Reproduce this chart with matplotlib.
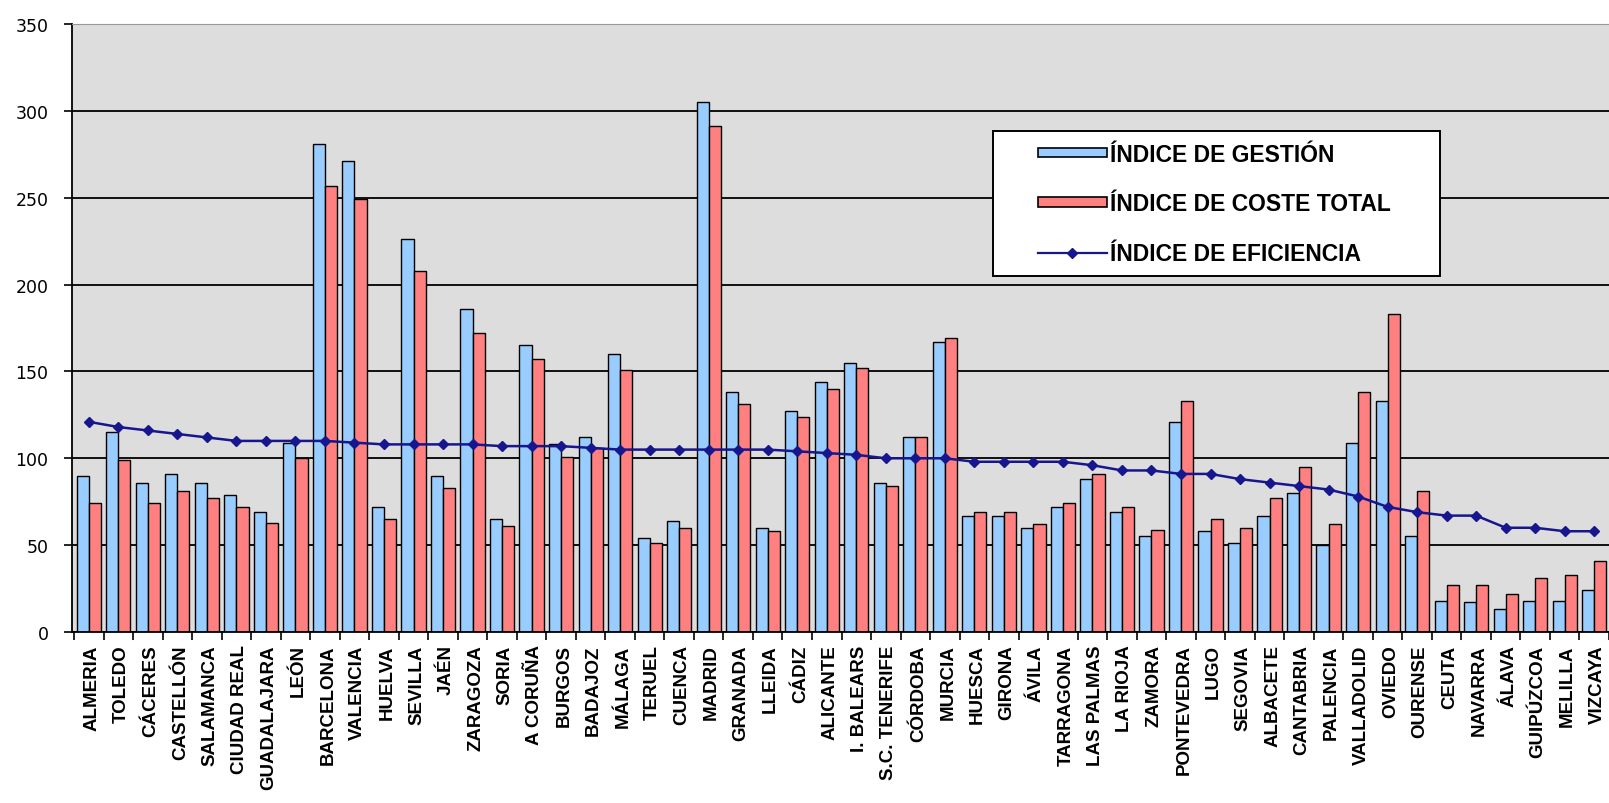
import numpy as np
import matplotlib
matplotlib.use("Agg")
import matplotlib.pyplot as plt
import matplotlib.transforms as mtransforms
from matplotlib.lines import Line2D
from matplotlib.patches import Patch, Rectangle

# provincias (ordenadas por índice de eficiencia)
provincias = ["ALMERIA", "TOLEDO", "CÁCERES", "CASTELLÓN", "SALAMANCA", "CIUDAD REAL",
              "GUADALAJARA", "LEÓN", "BARCELONA", "VALENCIA", "HUELVA", "SEVILLA", "JAÉN",
              "ZARAGOZA", "SORIA", "A CORUÑA", "BURGOS", "BADAJOZ", "MÁLAGA", "TERUEL",
              "CUENCA", "MADRID", "GRANADA", "LLEIDA", "CÁDIZ", "ALICANTE", "I. BALEARS",
              "S.C. TENERIFE", "CÓRDOBA", "MURCIA", "HUESCA", "GIRONA", "ÁVILA",
              "TARRAGONA", "LAS PALMAS", "LA RIOJA", "ZAMORA", "PONTEVEDRA", "LUGO",
              "SEGOVIA", "ALBACETE", "CANTABRIA", "PALENCIA", "VALLADOLID", "OVIEDO",
              "OURENSE", "CEUTA", "NAVARRA", "ÁLAVA", "GUIPÚZCOA", "MELILLA", "VIZCAYA"]

indice_gestion = [90, 115, 86, 91, 86, 79, 69, 109, 281, 271, 72, 226, 90,
                  186, 65, 165, 108, 112, 160, 54, 64, 305, 138, 60, 127, 144,
                  155, 86, 112, 167, 67, 67, 60, 72, 88, 69, 55, 121, 58, 51,
                  67, 80, 50, 109, 133, 55, 18, 17, 13, 18, 18, 24]

indice_coste = [74, 99, 74, 81, 77, 72, 63, 100, 257, 249, 65, 208, 83,
                172, 61, 157, 101, 106, 151, 51, 60, 291, 131, 58, 124, 140,
                152, 84, 112, 169, 69, 69, 62, 74, 91, 72, 59, 133, 65, 60,
                77, 95, 62, 138, 183, 81, 27, 27, 22, 31, 33, 41]

indice_eficiencia = [121, 118, 116, 114, 112, 110, 110, 110, 110, 109, 108, 108, 108,
                     108, 107, 107, 107, 106, 105, 105, 105, 105, 105, 105, 104, 103,
                     102, 100, 100, 100, 98, 98, 98, 98, 96, 93, 93, 91, 91, 88,
                     86, 84, 82, 78, 72, 69, 67, 67, 60, 60, 58, 58]

leyenda = ["ÍNDICE DE GESTIÓN", "ÍNDICE DE COSTE TOTAL", "ÍNDICE DE EFICIENCIA"]

AZUL, ROJO, LINEA = "#99CCFF", "#FF8080", "#16168F"
FUENTE = ["Liberation Sans", "DejaVu Sans"]

W, H = 1609, 804
fig = plt.figure(figsize=(W / 100, H / 100), dpi=100)
ax = fig.add_axes([72 / W, (H - 633) / H, (W - 72) / W, (633 - 25) / H])
ax.set_facecolor("#DDDDDD")

x = np.arange(len(provincias))
bw = 0.41
ax.bar(x - bw / 2, indice_gestion, bw, color=AZUL, edgecolor="black",
       linewidth=1.0, zorder=2)
ax.bar(x + bw / 2, indice_coste, bw, color=ROJO, edgecolor="black",
       linewidth=1.0, zorder=2)
ax.plot(x, indice_eficiencia, color=LINEA, linewidth=1.8, marker="D",
        markersize=5.5, zorder=3)

ax.set_ylim(0, 350)
ax.set_xlim(-0.57, -0.57 + (W - 72) / 29.7)
ax.set_yticks(range(0, 351, 50))
ax.yaxis.grid(True, color="black", linewidth=1.3, zorder=0)
ax.set_axisbelow(True)

ax.spines["right"].set_visible(False)
ax.spines["top"].set_color("#999999")
ax.spines["left"].set_linewidth(1.3)
ax.spines["bottom"].set_linewidth(1.3)

ax.tick_params(axis="y", length=6, width=1.2, labelsize=12.5, pad=11)
for lab in ax.get_yticklabels():
    lab.set_family("DejaVu Sans")

ax.set_xticks(x)
ax.set_xticklabels(provincias, rotation=90, fontsize=13.5, fontweight="bold",
                   family=FUENTE)
ax.tick_params(axis="x", which="major", length=0, pad=9)
ax.set_xticks(np.arange(-0.5, len(provincias), 1), minor=True)
ax.tick_params(axis="x", which="minor", length=6, width=1.2)
desplaza = mtransforms.ScaledTranslation(3 / 100, 0, fig.dpi_scale_trans)
for lab in ax.get_xticklabels():
    lab.set_transform(lab.get_transform() + desplaza)

# caja de la leyenda
caja = Rectangle((993 / W, 1 - 277 / H), (1440 - 993) / W, (277 - 132) / H,
                 transform=fig.transFigure, facecolor="white", edgecolor="black",
                 linewidth=1.4, zorder=4)
fig.patches.append(caja)

handles = [Patch(facecolor=AZUL, edgecolor="black", linewidth=1.2),
           Patch(facecolor=ROJO, edgecolor="black", linewidth=1.2),
           Line2D([], [], color=LINEA, linewidth=1.6, marker="D", markersize=5.5)]
leg = fig.legend(handles, leyenda, loc="upper left",
                 bbox_to_anchor=(1038 / W, 1 - 144 / H),
                 prop={"family": FUENTE, "size": 16.5, "weight": "bold"},
                 frameon=False, handlelength=3.0, handleheight=0.25,
                 handletextpad=0.15, labelspacing=1.15, borderpad=0,
                 borderaxespad=0)
leg.set_zorder(5)

fig.savefig("out.png", dpi=100)
